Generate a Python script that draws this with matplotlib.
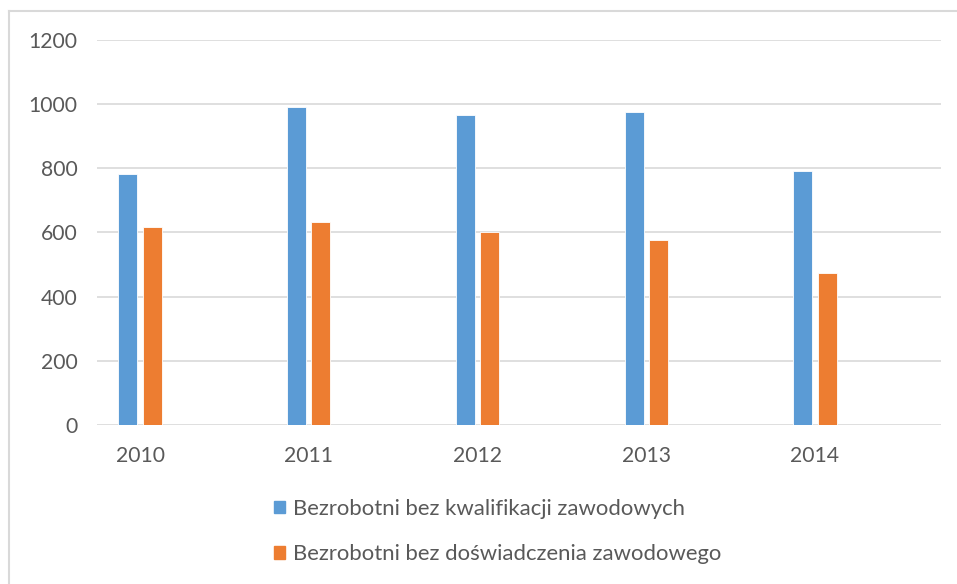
import numpy as np
import matplotlib.pyplot as plt
from matplotlib.patches import Patch
from matplotlib.lines import Line2D

# Data
years = ['2010', '2011', '2012', '2013', '2014']
bez_kwalifikacji = [781, 990, 965, 977, 793]
bez_doswiadczenia = [618, 633, 601, 577, 473]
yticks = [0, 200, 400, 600, 800, 1000, 1200]

blue = '#5b9bd5'
orange = '#ed7d31'
grid_c = '#d9d9d9'
text_c = '#595959'

plt.rcParams['font.family'] = ['Lato', 'DejaVu Sans']

fig = plt.figure(figsize=(9.57, 5.84), dpi=100)
ax = fig.add_axes([97 / 957, 1 - 425 / 584, (941 - 97) / 957, (425 - 40) / 584])

x = np.arange(len(years))
w = 0.113
ax.bar(x - 0.072, bez_kwalifikacji, w, color=blue, edgecolor='white', linewidth=0.6,
       label='Bezrobotni bez kwalifikacji zawodowych', zorder=3)
ax.bar(x + 0.072, bez_doswiadczenia, w, color=orange, edgecolor='white', linewidth=0.6,
       label='Bezrobotni bez doświadczenia zawodowego', zorder=3)

ax.set_ylim(0, 1200)
ax.set_xlim(-0.255, 4.747)
ax.set_yticks(yticks)
ax.set_xticks(x)
ax.set_xticklabels(years)
ax.yaxis.grid(True, color=grid_c, linewidth=1.2)
ax.set_axisbelow(True)
for s in ax.spines.values():
    s.set_visible(False)
ax.tick_params(length=0, labelsize=15.2, colors=text_c)
ax.tick_params(axis='y', pad=14)
ax.tick_params(axis='x', pad=15)

# legend, stacked under the plot
handles = [Patch(color=blue), Patch(color=orange)]
labels = ['Bezrobotni bez kwalifikacji zawodowych', 'Bezrobotni bez doświadczenia zawodowego']
fig.legend(handles, labels, loc='upper left', bbox_to_anchor=(254 / 957, 1 - 479 / 584),
           frameon=False, fontsize=15.9, labelcolor=text_c, handlelength=0.5,
           handleheight=0.5, handletextpad=0.35, labelspacing=1.15)

# outer chart border (top and left edges visible)
fig.add_artist(Line2D([9 / 957, 1], [1 - 11 / 584, 1 - 11 / 584], transform=fig.transFigure,
                      color=grid_c, linewidth=1.5))
fig.add_artist(Line2D([9 / 957, 9 / 957], [0, 1 - 11 / 584], transform=fig.transFigure,
                      color=grid_c, linewidth=1.5))

fig.savefig('out.png', dpi=100)
